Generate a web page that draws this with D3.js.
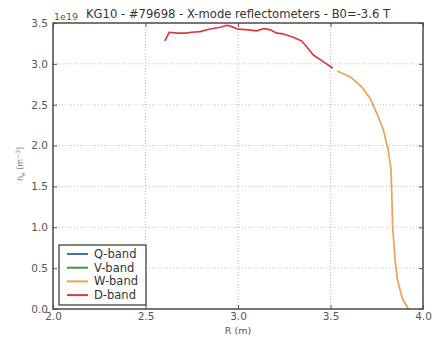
<!DOCTYPE html>
<html><head><meta charset="utf-8">
<script src="https://cdn.jsdelivr.net/npm/d3@7"></script>
<style>body{margin:0;background:#fff}svg{display:block}text{font-family:"DejaVu Sans",sans-serif}</style>
</head><body><svg id="c" width="434" height="338"></svg>
<script>
const titleText = "KG10 - #79698 - X-mode reflectometers - B0=-3.6 T";
const xTicks = [2.0, 2.5, 3.0, 3.5, 4.0];
const yTicks = [0.0, 0.5, 1.0, 1.5, 2.0, 2.5, 3.0, 3.5];
const bands = ["Q-band", "V-band", "W-band", "D-band"];
const bandColors = ["#3b73b5", "#3a9a45", "#f0a052", "#d93a44"];
// D-band (R in m, ne in 1e19 m^-3)
const dR  = [2.605,2.629,2.669,2.714,2.750,2.795,2.849,2.903,2.942,2.966,3.002,3.056,3.101,3.141,3.177,3.209,3.245,3.299,3.344,3.371,3.407,3.461,3.512];
const dNe = [3.28,3.387,3.375,3.375,3.387,3.395,3.427,3.448,3.472,3.456,3.424,3.415,3.403,3.432,3.415,3.375,3.366,3.325,3.280,3.21,3.109,3.027,2.946];
// W-band
const wR  = [3.537,3.605,3.668,3.714,3.750,3.786,3.812,3.827,3.831,3.836,3.849,3.862,3.888,3.921];
const wNe = [2.913,2.843,2.72,2.58,2.395,2.19,1.946,1.70,1.416,1.007,0.60,0.355,0.131,0.0];
// Q-band and V-band: no visible data
const qR = [], qNe = [], vR = [], vNe = [];

const svg = d3.select("#c");
const L = 53, R = 423, T = 23, B = 309;
const x = d3.scaleLinear().domain([2.0, 4.0]).range([L, R]);
const y = d3.scaleLinear().domain([0, 3.5]).range([B, T]);

// grid
const grid = svg.append("g").attr("stroke", "#b0b0b0").attr("stroke-width", 0.8).attr("stroke-dasharray", "1,2");
xTicks.slice(1, -1).forEach(t => grid.append("line").attr("x1", x(t)).attr("x2", x(t)).attr("y1", T).attr("y2", B));
yTicks.slice(1, -1).forEach(t => grid.append("line").attr("x1", L).attr("x2", R).attr("y1", y(t)).attr("y2", y(t)));

// axes (ticks inward)
const ax = d3.axisBottom(x).tickValues(xTicks).tickFormat(d3.format(".1f")).tickSizeInner(-4).tickSizeOuter(0).tickPadding(4);
const ay = d3.axisLeft(y).tickValues(yTicks).tickFormat(d3.format(".1f")).tickSizeInner(-4).tickSizeOuter(0).tickPadding(5);
const gx = svg.append("g").attr("transform", `translate(0,${B})`).call(ax);
const gy = svg.append("g").attr("transform", `translate(${L},0)`).call(ay);
[gx, gy].forEach(g => {
  g.select(".domain").remove();
  g.selectAll(".tick line").attr("stroke", "#555");
  g.selectAll(".tick text").attr("fill", "#555").style("font-size", "10.5px");
});
const gxt = svg.append("g").attr("transform", `translate(0,${T})`).call(d3.axisTop(x).tickValues(xTicks).tickFormat("").tickSizeInner(-4).tickSizeOuter(0));
const gyr = svg.append("g").attr("transform", `translate(${R},0)`).call(d3.axisRight(y).tickValues(yTicks).tickFormat("").tickSizeInner(-4).tickSizeOuter(0));
[gxt, gyr].forEach(g => { g.select(".domain").remove(); g.selectAll(".tick line").attr("stroke", "#555"); });

// lines
const line = d3.line().x(d => x(d[0])).y(d => y(d[1]));
const series = [[qR, qNe], [vR, vNe], [wR, wNe], [dR, dNe]];
series.forEach((s, i) => {
  if (!s[0].length) return;
  svg.append("path").datum(s[0].map((r, j) => [r, s[1][j]]))
    .attr("d", line).attr("fill", "none").attr("stroke", bandColors[i])
    .attr("stroke-width", 1.7).attr("stroke-linejoin", "round");
});

// frame
svg.append("rect").attr("x", L).attr("y", T).attr("width", R - L).attr("height", B - T)
  .attr("fill", "none").attr("stroke", "#4a4a4a").attr("stroke-width", 1.5);

// texts
svg.append("text").attr("x", (L + R) / 2).attr("y", 18).attr("text-anchor", "middle")
  .attr("fill", "#333").style("font-size", "11.6px").text(titleText);
svg.append("text").attr("x", L + 1).attr("y", 20).attr("fill", "#555").style("font-size", "9.5px").text("1e19");
svg.append("text").attr("x", (L + R) / 2).attr("y", 334).attr("text-anchor", "middle")
  .attr("fill", "#555").style("font-size", "9.5px").text("R (m)");
const yl = svg.append("text").attr("transform", `translate(23,${(T + B) / 2 - 2}) rotate(-90)`)
  .attr("text-anchor", "middle").attr("fill", "#777").style("font-size", "8px");
yl.append("tspan").text("n");
yl.append("tspan").attr("dy", 2).style("font-size", "6px").text("e");
yl.append("tspan").attr("dy", -2).text(" (m");
yl.append("tspan").attr("dy", -3).style("font-size", "6px").text("−3");
yl.append("tspan").attr("dy", 3).text(")");

// legend
const lg = svg.append("g");
lg.append("rect").attr("x", 59).attr("y", 245).attr("width", 87).attr("height", 60)
  .attr("fill", "#fff").attr("stroke", "#333").attr("stroke-width", 1.2);
bands.forEach((b, i) => {
  const yy = 254 + i * 13.7;
  lg.append("line").attr("x1", 67).attr("x2", 88).attr("y1", yy).attr("y2", yy)
    .attr("stroke", bandColors[i]).attr("stroke-width", 2);
  lg.append("text").attr("x", 94).attr("y", yy + 4).attr("fill", "#333").style("font-size", "11.5px").text(b);
});
</script></body></html>
